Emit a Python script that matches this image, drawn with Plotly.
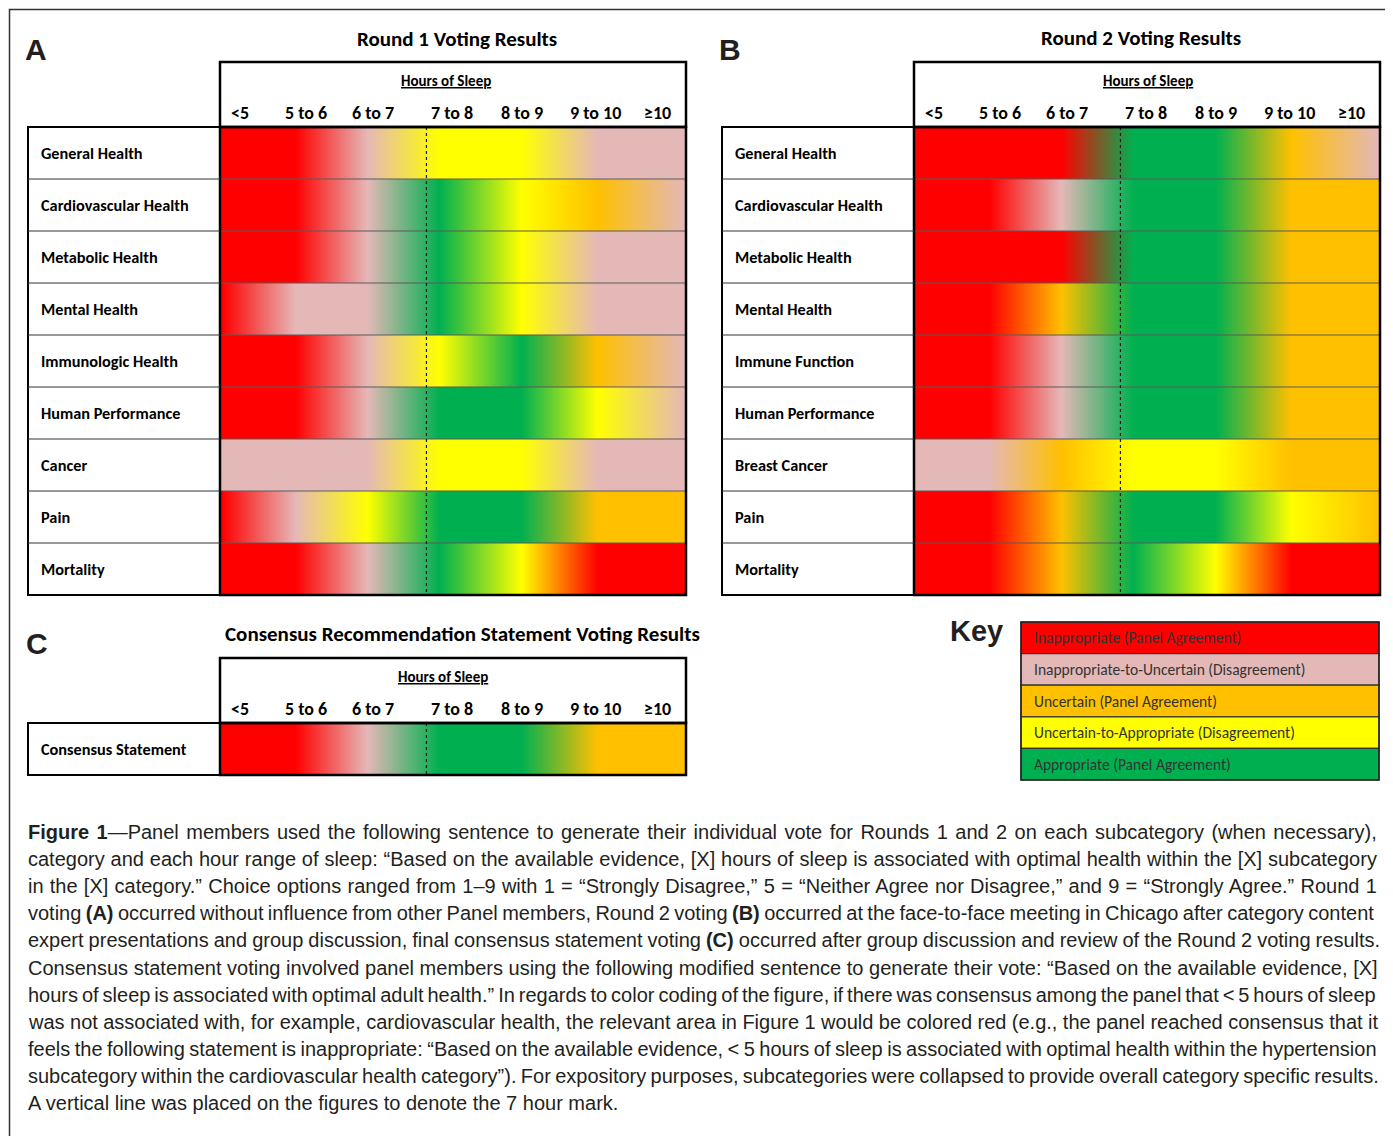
import plotly.graph_objects as go

W, H = 1393, 1136
OFF = 8                      # page body margin of the browser
FW, FH = W - OFF, H - OFF    # figure size so that the page fits the window

# ---------------- data ----------------
HOURS = ["<5", "5 to 6", "6 to 7", "7 to 8", "8 to 9", "9 to 10", "≥10"]

# rating codes: IA = Inappropriate (Panel Agreement), IU = Inappropriate-to-Uncertain (Disagreement),
# U = Uncertain (Panel Agreement), UA = Uncertain-to-Appropriate (Disagreement), A = Appropriate (Panel Agreement)
KEY_CODES = ["IA", "IU", "U", "UA", "A"]
KEY_LABELS = ["Inappropriate (Panel Agreement)",
              "Inappropriate-to-Uncertain (Disagreement)",
              "Uncertain (Panel Agreement)",
              "Uncertain-to-Appropriate (Disagreement)",
              "Appropriate (Panel Agreement)"]

R1_CATEGORIES = ["General Health", "Cardiovascular Health", "Metabolic Health", "Mental Health",
                 "Immunologic Health", "Human Performance", "Cancer", "Pain", "Mortality"]
R1_RATINGS = [
    ["IA", "IA", "IU", "UA", "UA", "IU", "IU"],
    ["IA", "IA", "IU", "A", "UA", "U", "IU"],
    ["IA", "IA", "IU", "A", "UA", "IU", "IU"],
    ["IA", "IU", "IU", "A", "UA", "IU", "IU"],
    ["IA", "IA", "IU", "UA", "A", "U", "IU"],
    ["IA", "IA", "IU", "A", "A", "UA", "IU"],
    ["IU", "IU", "IU", "UA", "UA", "IU", "IU"],
    ["IA", "IU", "UA", "A", "A", "U", "U"],
    ["IA", "IA", "IU", "A", "UA", "IA", "IA"],
]

R2_CATEGORIES = ["General Health", "Cardiovascular Health", "Metabolic Health", "Mental Health",
                 "Immune Function", "Human Performance", "Breast Cancer", "Pain", "Mortality"]
R2_RATINGS = [
    ["IA", "IA", "IA", "A", "A", "U", "IU"],
    ["IA", "IA", "IU", "A", "A", "U", "U"],
    ["IA", "IA", "IA", "A", "A", "U", "U"],
    ["IA", "IA", "U", "A", "A", "U", "U"],
    ["IA", "IA", "IU", "A", "A", "U", "U"],
    ["IA", "IA", "IU", "A", "A", "U", "U"],
    ["IU", "IU", "U", "UA", "UA", "U", "U"],
    ["IA", "IA", "U", "A", "A", "UA", "U"],
    ["IA", "IA", "U", "A", "UA", "IA", "IA"],
]

C_CATEGORIES = ["Consensus Statement"]
C_RATINGS = [["IA", "IA", "IU", "A", "A", "U", "U"]]

CAPTION = [
    "<b>Figure 1</b>—Panel members used the following sentence to generate their individual vote for Rounds 1 and 2 on each subcategory (when necessary),",
    "category and each hour range of sleep: “Based on the available evidence, [X] hours of sleep is associated with optimal health within the [X] subcategory",
    "in the [X] category.” Choice options ranged from 1–9 with 1 = “Strongly Disagree,” 5 = “Neither Agree nor Disagree,” and 9 = “Strongly Agree.” Round 1",
    "voting <b>(A)</b> occurred without influence from other Panel members, Round 2 voting <b>(B)</b> occurred at the face-to-face meeting in Chicago after category content",
    "expert presentations and group discussion, final consensus statement voting <b>(C)</b> occurred after group discussion and review of the Round 2 voting results.",
    "Consensus statement voting involved panel members using the following modified sentence to generate their vote: “Based on the available evidence, [X]",
    "hours of sleep is associated with optimal adult health.” In regards to color coding of the figure, if there was consensus among the panel that &lt; 5 hours of sleep",
    "was not associated with, for example, cardiovascular health, the relevant area in Figure 1 would be colored red (e.g., the panel reached consensus that it",
    "feels the following statement is inappropriate: “Based on the available evidence, &lt; 5 hours of sleep is associated with optimal health within the hypertension",
    "subcategory within the cardiovascular health category”). For expository purposes, subcategories were collapsed to provide overall category specific results.",
    "A vertical line was placed on the figures to denote the 7 hour mark.",
]

# ---------------- style ----------------
COLORS = {"IA": "#FF0000", "IU": "#E4B8B7", "U": "#FFC000", "UA": "#FFFF00", "A": "#00B050"}
GRAD_POS = [0.004, 0.16, 0.315, 0.47, 0.645, 0.81, 0.996]   # gradient anchor of each hour column (fraction of width)
SEVEN_HOUR = 0.443                                            # position of the 7 hour marker
LABEL_OFF = [20, 86, 153, 232, 302, 375, 437]                 # column label centres from box left (px)

UI_FONT = "Carlito, Calibri, Lato, sans-serif"
SANS = "Liberation Sans, Arial, sans-serif"
CAP_SIZE = 20
CAP_WIDTH = 1350                                              # justified line width (px)
CAP_NATURAL = [1311, 1343, 1332, 1376, 1361, 1349, 1397, 1353, 1375, 1371, None]  # estimated natural widths


def px(x):
    return (x - OFF) / FW


def py(y):
    return 1 - (y - OFF) / FH


fig = go.Figure()
shapes = []
annotations = []


def rect(x0, y0, x1, y1, width=1, color="black", fill=None):
    d = dict(type="rect", xref="paper", yref="paper", x0=px(x0), x1=px(x1), y0=py(y1), y1=py(y0),
             line=dict(color=color, width=width), layer="above")
    if fill:
        d["fillcolor"] = fill
        d["layer"] = "below"
    shapes.append(d)


def hline(x0, x1, y, width=1, color="black"):
    shapes.append(dict(type="line", xref="paper", yref="paper", x0=px(x0), x1=px(x1), y0=py(y), y1=py(y),
                       line=dict(color=color, width=width), layer="above"))


def text(x, y, s, size, family=UI_FONT, color="black", xanchor="center", weight="bold"):
    annotations.append(dict(xref="paper", yref="paper", x=px(x), y=py(y), text=s, showarrow=False,
                            xanchor=xanchor, yanchor="middle",
                            font=dict(family=family, size=size, color=color, weight=weight)))


def panel(idx, letter, letter_xy, title, title_xy, hours_x, box_left, label_left, head_top, heat_top, heat_bot,
          heat_right, cats, ratings):
    ax = "" if idx == 1 else str(idx)
    n = len(cats)
    # heatmap rows: colour gradient via the library colour scale and smoothing
    for r, row in enumerate(ratings):
        cs = [[i / (len(row) - 1), COLORS[c]] for i, c in enumerate(row)]
        fig.add_trace(go.Heatmap(x=GRAD_POS, y=[r], z=[list(range(len(row)))], zmin=0, zmax=len(row) - 1,
                                 colorscale=cs, zsmooth="best", showscale=False, hoverinfo="skip",
                                 xaxis="x" + ax, yaxis="y" + ax))
    fig.layout["xaxis" + ax] = dict(domain=[px(box_left), px(heat_right)], range=[0, 1], visible=False,
                                    fixedrange=True, anchor="y" + ax)
    fig.layout["yaxis" + ax] = dict(domain=[py(heat_bot), py(heat_top)], range=[n - 0.5, -0.5], visible=False,
                                    fixedrange=True, anchor="x" + ax)
    for r in range(n - 1):
        shapes.append(dict(type="line", xref="x" + ax, yref="y" + ax, x0=0, x1=1, y0=r + 0.5, y1=r + 0.5,
                           line=dict(color="#5a5a5a", width=1), layer="above"))
    shapes.append(dict(type="line", xref="x" + ax, yref="y" + ax, x0=SEVEN_HOUR, x1=SEVEN_HOUR,
                       y0=-0.5, y1=n - 0.5, line=dict(color="#1a1a1a", width=1.2, dash="dot"), layer="above"))
    rect(box_left, head_top, heat_right, heat_top, width=2.5)
    rect(box_left, heat_top, heat_right, heat_bot, width=2.5)
    rect(label_left, heat_top, box_left, heat_bot, width=2)
    rh = (heat_bot - heat_top) / n
    for r in range(1, n):
        hline(label_left, box_left, heat_top + r * rh, width=1.2, color="#333333")
    for r, c in enumerate(cats):
        text(label_left + 11, heat_top + (r + 0.5) * rh, c, 16.3, xanchor="left")
    text(letter_xy[0], letter_xy[1], letter, 30, family=SANS, color="#231f20")
    text(title_xy[0], title_xy[1], title, 21)
    text(hours_x, head_top + 19, "<u>Hours of Sleep</u>", 15)
    for h, off in zip(HOURS, LABEL_OFF):
        text(box_left + off, head_top + 51, h.replace("<", "&lt;"), 18)


panel(1, "A", (36, 49), "Round 1 Voting Results", (457, 39), 446, 220, 28, 62, 127, 595, 686,
      R1_CATEGORIES, R1_RATINGS)
panel(2, "B", (730, 49), "Round 2 Voting Results", (1141, 38), 1148, 914, 722, 62, 127, 595, 1380,
      R2_CATEGORIES, R2_RATINGS)
panel(3, "C", (37, 643), "Consensus Recommendation Statement Voting Results", (462, 634), 443, 220, 28, 658, 723,
      775, 686, C_CATEGORIES, C_RATINGS)

# ---------------- key ----------------
text(976, 631, "Key", 29, family=SANS, color="#231f20")
k_top, k_bot, k_left, k_right = 622, 780, 1021, 1379
kh = (k_bot - k_top) / len(KEY_CODES)
for i, (c, lab) in enumerate(zip(KEY_CODES, KEY_LABELS)):
    y0 = k_top + i * kh
    rect(k_left, y0, k_right, y0 + kh, width=1.2, color="#333333", fill=COLORS[c])
    text(k_left + 11, y0 + kh / 2, lab, 15.5, color="#333333", xanchor="left", weight="normal")
rect(k_left, k_top, k_right, k_bot, width=1.5, color="#222222")

# ---------------- caption (justified via word spacing) ----------------
for i, (line, nat) in enumerate(zip(CAPTION, CAP_NATURAL)):
    s = line
    if nat is not None:
        plain = line.replace("<b>", "").replace("</b>", "")
        ws = (CAP_WIDTH - nat) / max(plain.count(" "), 1)
        s = f'<span style="word-spacing:{ws:.2f}px">{line}</span>'
    text(26, 832 + i * 27.1, s, CAP_SIZE, family=SANS, color="#231f20", xanchor="left", weight="normal")

# outer frame (top and left edges visible)
shapes.append(dict(type="rect", xref="paper", yref="paper", x0=px(9.5), x1=px(1420), y0=py(1160), y1=py(9.5),
                   line=dict(color="#333333", width=1.5), layer="below"))

fig.update_layout(width=FW, height=FH, margin=dict(l=0, r=0, t=0, b=0), paper_bgcolor="white",
                  plot_bgcolor="white", shapes=shapes, annotations=annotations, showlegend=False)
fig.write_html("out.html")
